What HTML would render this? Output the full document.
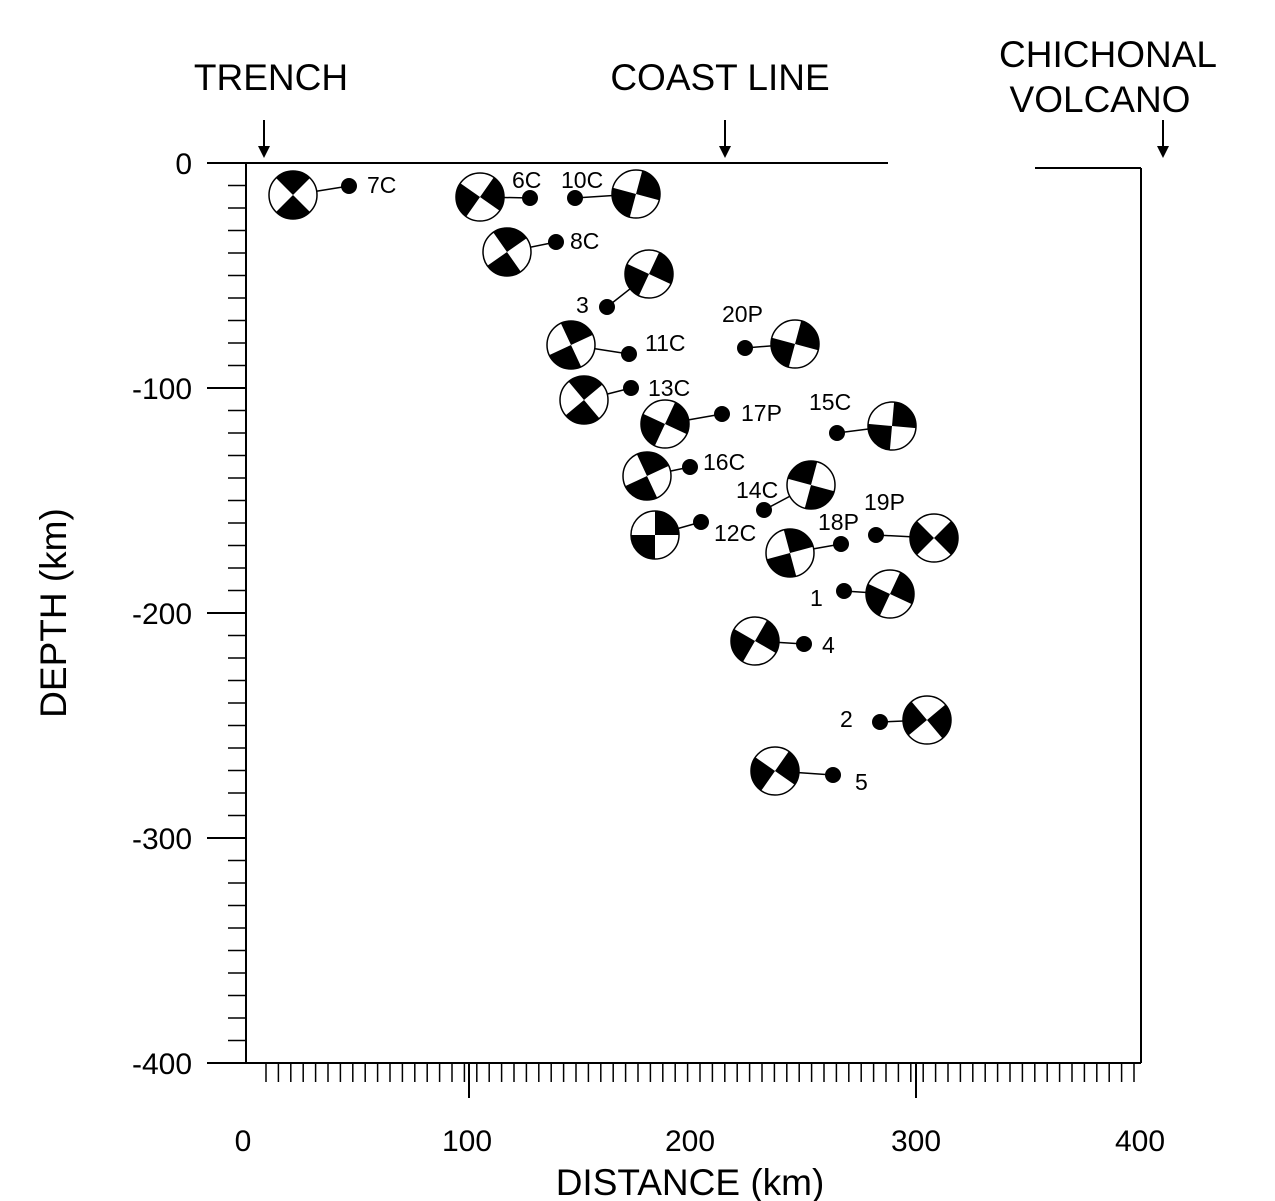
<!DOCTYPE html>
<html><head><meta charset="utf-8"><style>
html,body{margin:0;padding:0;background:#fff}
svg{display:block}
text{font-family:"Liberation Sans",Arial,sans-serif;fill:#000}
</style></head><body>
<svg id="s" width="1275" height="1201" viewBox="0 0 1275 1201" xmlns="http://www.w3.org/2000/svg">
<g stroke="#000" stroke-width="2" fill="none">
<line x1="207" y1="163" x2="888" y2="163"/>
<line x1="1035" y1="168" x2="1141" y2="168"/>
<line x1="246" y1="163" x2="246" y2="1063"/>
<line x1="1141" y1="168" x2="1141" y2="1063"/>
<line x1="207" y1="1063" x2="1141" y2="1063"/>
<line x1="207" y1="388" x2="246" y2="388"/>
<line x1="207" y1="613" x2="246" y2="613"/>
<line x1="207" y1="838" x2="246" y2="838"/>
<line x1="469" y1="1063" x2="469" y2="1098"/>
<line x1="916" y1="1063" x2="916" y2="1098"/>
<line x1="264" y1="120" x2="264" y2="150"/>
<line x1="725" y1="120" x2="725" y2="150"/>
<line x1="1163" y1="120" x2="1163" y2="150"/>
</g>
<g fill="#000">
<polygon points="258,146 270,146 264,158"/>
<polygon points="719,146 731,146 725,158"/>
<polygon points="1157,146 1169,146 1163,158"/>
</g>
<g id="ticks" stroke="#000" stroke-width="1.5"></g>
<g font-size="37" text-anchor="middle">
<text x="271" y="90">TRENCH</text>
<text x="720" y="90">COAST LINE</text>
<text x="1108" y="67">CHICHONAL</text>
<text x="1100" y="112">VOLCANO</text>
<text x="690" y="1195">DISTANCE (km)</text>
<text transform="translate(66,613) rotate(-90)">DEPTH (km)</text>
</g>
<g font-size="30" text-anchor="end">
<text x="192" y="174">0</text>
<text x="192" y="399">-100</text>
<text x="192" y="624">-200</text>
<text x="192" y="849">-300</text>
<text x="192" y="1074">-400</text>
</g>
<g font-size="30" text-anchor="middle">
<text x="243" y="1151">0</text>
<text x="467" y="1151">100</text>
<text x="690" y="1151">200</text>
<text x="916" y="1151">300</text>
<text x="1140" y="1151">400</text>
</g>
<g id="balls"></g>
<g font-size="23">
<text x="367" y="193">7C</text>
<text x="512" y="188">6C</text>
<text x="561" y="188">10C</text>
<text x="570" y="249">8C</text>
<text x="576" y="313">3</text>
<text x="645" y="351">11C</text>
<text x="648" y="396">13C</text>
<text x="741" y="421">17P</text>
<text x="722" y="322">20P</text>
<text x="809" y="410">15C</text>
<text x="703" y="470">16C</text>
<text x="736" y="498">14C</text>
<text x="714" y="541">12C</text>
<text x="818" y="530">18P</text>
<text x="864" y="510">19P</text>
<text x="810" y="606">1</text>
<text x="822" y="653">4</text>
<text x="840" y="727">2</text>
<text x="855" y="790">5</text>
</g>
</svg>
<script>
var NS="http://www.w3.org/2000/svg";
function el(p,t,a){var e=document.createElementNS(NS,t);for(var k in a)e.setAttribute(k,a[k]);p.appendChild(e);return e;}
var tk=document.getElementById('ticks');
for(var y=185.5;y<1063;y+=22.5){el(tk,'line',{x1:228,y1:y,x2:246,y2:y});}
for(var x=266;x<1140;x+=12.4){el(tk,'line',{x1:x,y1:1063,x2:x,y2:1082});}
var B=[[293,195,349,186,90],[480,197,530,198,170],[636,194,575,198,-30],[507,252,556,242,100],[649,274,607,307,-20],[571,345,629,354,110],[584,400,631,388,95],[665,424,722,414,160],[795,344,745,348,-30],[892,426,837,433,-40],[647,476,690,467,110],[811,485,764,510,60],[655,535,701,522,135],[790,553,841,544,-60],[934,538,876,535,0],[890,594,844,591,-20],[755,641,804,644,-15],[927,720,880,722,5],[775,771,833,775,-10]];
var g=document.getElementById('balls'),r=24;
B.forEach(function(b){
 el(g,'line',{x1:b[0],y1:b[1],x2:b[2],y2:b[3],stroke:'#000','stroke-width':1.5});
 el(g,'circle',{cx:b[2],cy:b[3],r:8,fill:'#000'});
 el(g,'circle',{cx:b[0],cy:b[1],r:r,fill:'#fff',stroke:'#000','stroke-width':1.5});
 [0,180].forEach(function(o){
  var a1=(b[4]+o-45)*Math.PI/180,a2=(b[4]+o+45)*Math.PI/180;
  var d='M'+b[0]+','+b[1]+' L'+(b[0]+r*Math.cos(a1))+','+(b[1]+r*Math.sin(a1))+' A'+r+','+r+' 0 0 1 '+(b[0]+r*Math.cos(a2))+','+(b[1]+r*Math.sin(a2))+' Z';
  el(g,'path',{d:d,fill:'#000'});
 });
});
</script>
</body></html>
